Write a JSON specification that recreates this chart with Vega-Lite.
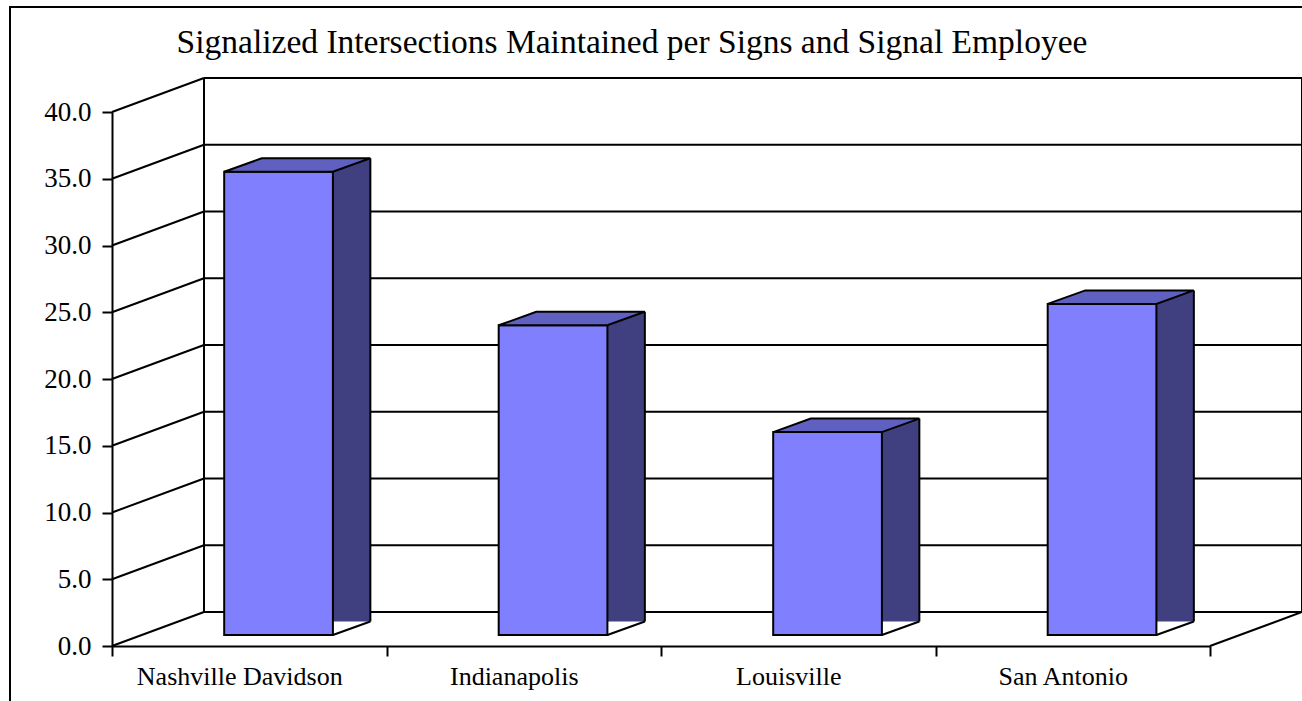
{
  "$schema": "https://vega.github.io/schema/vega-lite/v6.json",
  "width": 1098,
  "height": 534,
  "autosize": "none",
  "padding": {"left": 112, "top": 112, "right": 92, "bottom": 55},
  "background": "white",
  "title": {
    "text": "Signalized Intersections Maintained per Signs and Signal Employee",
    "font": "Liberation Serif",
    "fontSize": 33.5,
    "fontWeight": "normal",
    "color": "black",
    "anchor": "middle",
    "dx": -29,
    "dy": 80,
    "offset": 0,
    "baseline": "alphabetic"
  },
  "datasets": {
    "cities": [
      {"city": "Nashville Davidson", "value": 34.7},
      {"city": "Indianapolis", "value": 23.2},
      {"city": "Louisville", "value": 15.2},
      {"city": "San Antonio", "value": 24.8}
    ],
    "ticks": [{"v": 0}, {"v": 5}, {"v": 10}, {"v": 15}, {"v": 20}, {"v": 25}, {"v": 30}, {"v": 35}, {"v": 40}],
    "one": [{}]
  },
  "layer": [
    {
      "data": {"name": "ticks"},
      "mark": {"type": "rule", "color": "black", "strokeWidth": 2, "xOffset": 92, "x2Offset": 92, "yOffset": -34},
      "encoding": {
        "x": {"datum": "Nashville Davidson", "type": "nominal", "bandPosition": 0, "axis": {"title": null},
              "scale": {"type": "band", "domain": ["Nashville Davidson", "Indianapolis", "Louisville", "San Antonio"], "paddingInner": 0, "paddingOuter": 0}},
        "x2": {"datum": "San Antonio", "bandPosition": 1},
        "y": {"field": "v", "type": "quantitative", "axis": {"title": null}, "scale": {"domain": [0, 40], "nice": false, "zero": true}}
      }
    },
    {
      "data": {"name": "ticks"},
      "mark": {"type": "rule", "color": "black", "strokeWidth": 2, "x2Offset": 92, "y2Offset": -34},
      "encoding": {
        "x": {"datum": "Nashville Davidson", "type": "nominal", "bandPosition": 0, "axis": {"title": null}},
        "x2": {"datum": "Nashville Davidson", "bandPosition": 0},
        "y": {"field": "v", "type": "quantitative", "axis": {"title": null}},
        "y2": {"field": "v"}
      }
    },
    {
      "data": {"name": "one"},
      "mark": {"type": "rule", "color": "black", "strokeWidth": 2, "xOffset": 92, "yOffset": -34, "y2Offset": -34},
      "encoding": {
        "x": {"datum": "Nashville Davidson", "type": "nominal", "bandPosition": 0, "axis": {"title": null}},
        "y": {"datum": 0, "type": "quantitative", "axis": {"title": null}},
        "y2": {"datum": 40}
      }
    },
    {
      "data": {"name": "one"},
      "mark": {"type": "rule", "color": "black", "strokeWidth": 2, "xOffset": 92, "yOffset": -34, "y2Offset": -34},
      "encoding": {
        "x": {"datum": "San Antonio", "type": "nominal", "bandPosition": 1, "axis": {"title": null}},
        "y": {"datum": 0, "type": "quantitative", "axis": {"title": null}},
        "y2": {"datum": 40}
      }
    },
    {
      "data": {"name": "one"},
      "mark": {"type": "rule", "color": "black", "strokeWidth": 2, "x2Offset": 92, "y2Offset": -34},
      "encoding": {
        "x": {"datum": "San Antonio", "type": "nominal", "bandPosition": 1, "axis": {"title": null}},
        "x2": {"datum": "San Antonio", "bandPosition": 1},
        "y": {"datum": 0, "type": "quantitative", "axis": {"title": null}},
        "y2": {"datum": 0}
      }
    },
    {
      "data": {"name": "cities"},
      "mark": {"type": "bar", "width": 37.5, "xOffset": 102.35, "yOffset": -24.5, "y2Offset": -11, "fill": "#404080", "strokeWidth": 0},
      "encoding": {
        "x": {"field": "city", "type": "nominal", "sort": null, "axis": {"title": null}},
        "y": {"field": "value", "type": "quantitative", "axis": {"title": null}}
      }
    },
    {
      "data": {"name": "cities"},
      "mark": {"type": "point", "shape": "M 83.6 -10 L 123 -10 L 123 -24.5 Z", "size": 4, "filled": true, "fill": "white", "strokeWidth": 0, "opacity": 1},
      "encoding": {
        "x": {"field": "city", "type": "nominal", "sort": null, "axis": {"title": null}},
        "y": {"datum": 0, "type": "quantitative", "axis": {"title": null}}
      }
    },
    {
      "data": {"name": "cities"},
      "mark": {"type": "rule", "color": "black", "strokeWidth": 2, "xOffset": 121.1, "yOffset": -24.5, "y2Offset": -24.5},
      "encoding": {
        "x": {"field": "city", "type": "nominal", "sort": null, "axis": {"title": null}},
        "y": {"field": "value", "type": "quantitative", "axis": {"title": null}},
        "y2": {"datum": 0}
      }
    },
    {
      "data": {"name": "cities"},
      "mark": {"type": "rule", "color": "black", "strokeWidth": 2, "xOffset": 83.6, "x2Offset": 121.1, "yOffset": -11, "y2Offset": -24.5},
      "encoding": {
        "x": {"field": "city", "type": "nominal", "sort": null, "axis": {"title": null}},
        "x2": {"field": "city"},
        "y": {"datum": 0, "type": "quantitative", "axis": {"title": null}},
        "y2": {"datum": 0}
      }
    },
    {
      "data": {"name": "cities"},
      "mark": {"type": "bar", "width": {"band": 0.396}, "xOffset": 29.3, "x2Offset": 29.3, "yOffset": -11, "y2Offset": -11, "fill": "#8080FF", "stroke": "black", "strokeWidth": 2},
      "encoding": {
        "x": {"field": "city", "type": "nominal", "sort": null, "axis": {"title": null}},
        "y": {"field": "value", "type": "quantitative",
              "axis": {"title": null, "values": [0, 5, 10, 15, 20, 25, 30, 35, 40], "format": ".1f"}}
      }
    },
    {
      "data": {"name": "cities"},
      "mark": {"type": "point", "shape": "M -25 -11 L 83.6 -11 L 121.1 -24.5 L 12.5 -24.5 Z", "size": 4, "filled": true, "fill": "#6060C0", "stroke": "black", "strokeWidth": 2, "opacity": 1},
      "encoding": {
        "x": {"field": "city", "type": "nominal", "sort": null, "axis": {"title": null}},
        "y": {"field": "value", "type": "quantitative", "axis": {"title": null}}
      }
    },
    {
      "data": {"name": "one"},
      "mark": {"type": "rule", "color": "black", "strokeWidth": 2, "xOffset": -102, "yOffset": -105, "y2Offset": 60},
      "encoding": {
        "x": {"datum": "Nashville Davidson", "type": "nominal", "bandPosition": 0, "axis": {"title": null}},
        "y": {"datum": 40, "type": "quantitative", "axis": {"title": null}},
        "y2": {"datum": 0}
      }
    },
    {
      "data": {"name": "one"},
      "mark": {"type": "rule", "color": "black", "strokeWidth": 2, "xOffset": -103, "x2Offset": 100, "yOffset": -105},
      "encoding": {
        "x": {"datum": "Nashville Davidson", "type": "nominal", "bandPosition": 0, "axis": {"title": null}},
        "x2": {"datum": "San Antonio", "bandPosition": 1},
        "y": {"datum": 40, "type": "quantitative", "axis": {"title": null}}
      }
    }
  ],
  "config": {
    "view": {"stroke": null},
    "axisX": {
      "labelAngle": 0, "labelFont": "Liberation Serif", "labelFontSize": 26, "labelColor": "black",
      "labelBaseline": "alphabetic", "labelPadding": 28, "labelOffset": -10, "labelLimit": 500,
      "domainColor": "black", "domainWidth": 2, "tickColor": "black", "tickWidth": 2, "tickSize": 10,
      "tickBand": "extent", "grid": false, "bandPosition": 0.5
    },
    "axisY": {
      "labelFont": "Liberation Serif", "labelFontSize": 27, "labelColor": "black", "labelPadding": 11,
      "domainColor": "black", "domainWidth": 2, "tickColor": "black", "tickWidth": 2, "tickSize": 10, "grid": false,
      "format": ".1f"
    }
  }
}
